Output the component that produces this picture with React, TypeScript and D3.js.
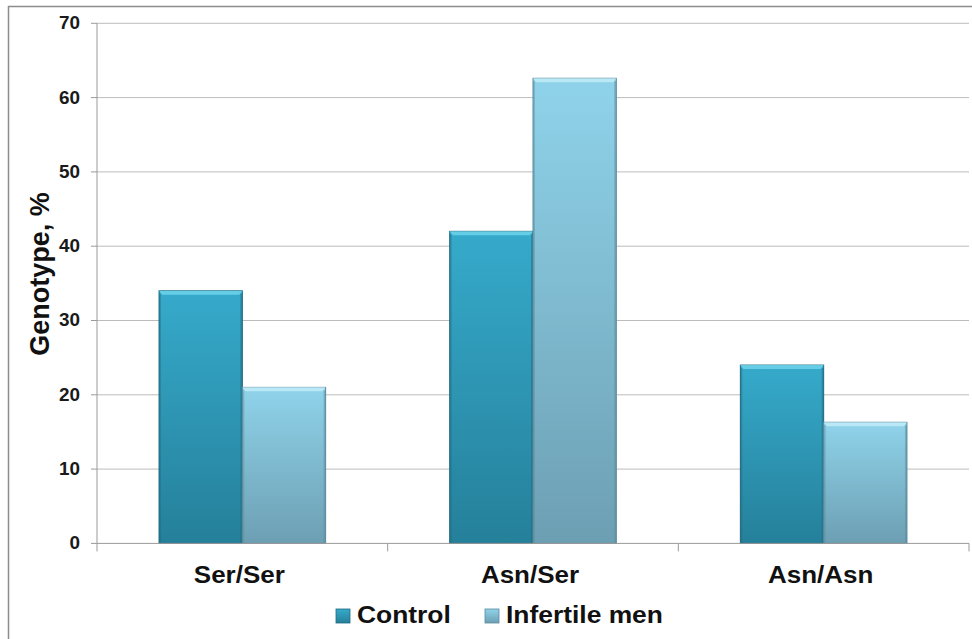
import * as d3 from "d3";

const CATEGORIES = ["Ser/Ser", "Asn/Ser", "Asn/Asn"];
const SERIES = ["Control", "Infertile men"];
const CONTROL = [34, 42, 24];
const INFERTILE = [21, 62.6, 16.3];
const Y_TICKS = [0, 10, 20, 30, 40, 50, 60, 70];

const W = 972;
const H = 639;
const LEFT = 97;
const RIGHT = 969;
const TOP = 23.3;
const BOTTOM = 543.4;

const FILLS = [
  { top: "#36aacb", bottom: "#25809a", hi: "#6fd3ec", edge: "#1f6a80" },
  { top: "#8fd3ea", bottom: "#6d9fb3", hi: "#c2ecf8", edge: "#5b8a9c" },
];

const FONT = "Arial, 'Liberation Sans', Helvetica, sans-serif";

export default function App() {
  const x0 = d3.scaleBand().domain(CATEGORIES).range([LEFT, RIGHT]).paddingInner(0).paddingOuter(0);
  const inner = 166.6 / x0.bandwidth();
  const x1 = d3
    .scaleBand()
    .domain(SERIES)
    .range([(x0.bandwidth() * (1 - inner)) / 2, (x0.bandwidth() * (1 + inner)) / 2])
    .padding(0);
  const y = d3.scaleLinear().domain([0, 70]).range([BOTTOM, TOP]);
  const values = [CONTROL, INFERTILE];

  return (
    <svg
      width={W}
      height={H}
      style={{ position: "absolute", left: 0, top: 0, background: "#fff" }}
      fontFamily={FONT}
    >
      <defs>
        {FILLS.map((f, i) => (
          <linearGradient key={i} id={`g${i}`} x1="0" y1="0" x2="0" y2="1">
            <stop offset="0" stopColor={f.top} />
            <stop offset="1" stopColor={f.bottom} />
          </linearGradient>
        ))}
      </defs>
      <rect x={8.5} y={6.5} width={W + 10} height={H + 10} fill="#fff" stroke="#8c8c8c" strokeWidth={1.5} />

      {/* gridlines */}
      {Y_TICKS.filter((t) => t > 0).map((t) => (
        <line key={t} x1={LEFT} x2={RIGHT} y1={y(t)} y2={y(t)} stroke="#bcbcbc" strokeWidth={1} />
      ))}
      {/* y ticks */}
      {Y_TICKS.map((t) => (
        <g key={t}>
          <line x1={LEFT - 6} x2={LEFT} y1={y(t)} y2={y(t)} stroke="#9a9a9a" />
          <text
            x={80}
            y={y(t) + 6}
            textAnchor="end"
            fontSize={17.5}
            fontWeight="bold"
            fill="#1a1a1a"
            transform={`translate(80,0) scale(1.08,1) translate(-80,0)`}
          >
            {t}
          </text>
        </g>
      ))}
      <line x1={LEFT} x2={LEFT} y1={TOP} y2={BOTTOM} stroke="#9a9a9a" />

      {/* bars */}
      {CATEGORIES.map((c, ci) => (
        <g key={c} transform={`translate(${x0(c)},0)`}>
          {SERIES.map((s, si) => {
            const v = values[si][ci];
            const bx = x1(s)!;
            const bw = x1.bandwidth();
            const by = y(v);
            const bh = BOTTOM - by;
            const f = FILLS[si];
            return (
              <g key={s}>
                <rect x={bx} y={by} width={bw} height={bh} fill={`url(#g${si})`} stroke={f.edge} strokeWidth={1} />
                <polygon
                  points={`${bx},${by} ${bx + bw},${by} ${bx + bw - 3},${by + 4} ${bx + 3},${by + 4}`}
                  fill={f.hi}
                  opacity={0.85}
                />
                <line x1={bx + 1} x2={bx + 1} y1={by + 3} y2={BOTTOM} stroke={f.edge} strokeOpacity={0.4} strokeWidth={2} />
                <line x1={bx + bw - 1} x2={bx + bw - 1} y1={by + 3} y2={BOTTOM} stroke={f.edge} strokeOpacity={0.5} strokeWidth={2} />
              </g>
            );
          })}
        </g>
      ))}

      {/* x axis */}
      <line x1={LEFT} x2={RIGHT} y1={BOTTOM} y2={BOTTOM} stroke="#9a9a9a" />
      {[...CATEGORIES.map((c) => x0(c)!), RIGHT].map((xx, i) => (
        <line key={i} x1={xx} x2={xx} y1={BOTTOM} y2={BOTTOM + 8} stroke="#9a9a9a" />
      ))}
      {CATEGORIES.map((c) => {
        const cx = x0(c)! + x0.bandwidth() / 2 - 3;
        return (
          <text
            key={c}
            x={cx}
            y={583}
            textAnchor="middle"
            fontSize={23}
            fontWeight="bold"
            fill="#111"
            transform={`translate(${cx},0) scale(1.13,1) translate(${-cx},0)`}
          >
            {c}
          </text>
        );
      })}

      {/* y title */}
      <text
        transform={`translate(49,274) rotate(-90)`}
        textAnchor="middle"
        fontSize={27}
        fontWeight="bold"
        fill="#111"
      >
        Genotype, %
      </text>

      {/* legend */}
      {SERIES.map((s, si) => {
        const lx = [336, 485][si];
        return (
          <g key={s}>
            <rect x={lx} y={609} width={14} height={14} fill={`url(#g${si})`} stroke={FILLS[si].edge} strokeWidth={0.8} />
            <text
              x={lx + 21}
              y={623}
              fontSize={24}
              fontWeight="bold"
              fill="#111"
              transform={`translate(${lx + 21},0) scale(1.1,1) translate(${-(lx + 21)},0)`}
            >
              {s}
            </text>
          </g>
        );
      })}
    </svg>
  );
}
